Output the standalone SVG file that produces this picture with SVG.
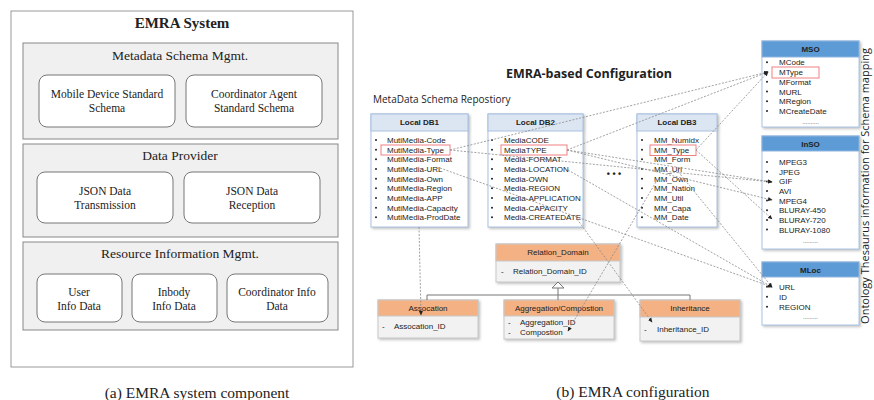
<svg xmlns="http://www.w3.org/2000/svg" width="874" height="400" viewBox="0 0 874 400">
<defs>
<marker id="arr" markerWidth="5" markerHeight="5" refX="4" refY="2.5" orient="auto" markerUnits="userSpaceOnUse">
<path d="M0,0.5 L4.5,2.5 L0,4.5 Z" fill="#222"/>
</marker>
<filter id="sh" x="-10%" y="-10%" width="130%" height="130%">
<feDropShadow dx="1.5" dy="1.5" stdDeviation="0.8" flood-color="#999" flood-opacity="0.6"/>
</filter>
</defs>
<style>
.serif{font-family:"Liberation Serif","Times New Roman",serif;fill:#222}
.sans{font-family:"Liberation Sans",Arial,sans-serif;fill:#222}
.kr{font-family:"Open Sans","Noto Sans",sans-serif;fill:#222}
.outer{fill:#fff;stroke:#999;stroke-width:1}
.sec{fill:#f0f0f0;stroke:#888;stroke-width:1}
.inner{fill:#fff;stroke:#777;stroke-width:1}
.dbh{fill:#dce6f2;stroke:#aac2df;stroke-width:1}
.dbb{fill:#fff;stroke:#aac2df;stroke-width:1}
.onh{fill:#5b9bd5;stroke:#8fb4de;stroke-width:1}
.onb{fill:#fff;stroke:#a9c4e4;stroke-width:1}
.rh{fill:#f4b183;stroke:#c8c8c8;stroke-width:1}
.rb{fill:#f2f2f2;stroke:#c8c8c8;stroke-width:1}
.hl{fill:none;stroke:#f08080;stroke-width:1}
.item{font-size:8px}
.hdr{font-size:8px;font-weight:bold;text-anchor:middle}
.conn{fill:none;stroke:#8a8a8a;stroke-width:0.8;stroke-dasharray:2 1.5}
.gen{fill:none;stroke:#777;stroke-width:1}
</style>

<!-- LEFT: EMRA system component -->
<g id="emra-system">
<rect class="outer" x="11" y="11" width="342" height="356"/>
<text class="serif" x="182" y="28" font-size="15" font-weight="bold" text-anchor="middle">EMRA System</text>
</g>
<g id="metadata-schema-mgmt">
<rect class="sec" x="23" y="43" width="315" height="96"/>
<text class="serif" x="180" y="60" font-size="13.5" text-anchor="middle">Metadata Schema Mgmt.</text>
</g>
<g id="mobile-device-schema">
<rect class="inner" x="39" y="75" width="136" height="52" rx="8"/>
<text class="serif" x="107" y="98" font-size="11.5" text-anchor="middle">Mobile Device Standard</text>
<text class="serif" x="107" y="112" font-size="11.5" text-anchor="middle">Schema</text>
</g>
<g id="coordinator-agent-schema">
<rect class="inner" x="186" y="75" width="136" height="52" rx="8"/>
<text class="serif" x="254" y="98" font-size="11.5" text-anchor="middle">Coordinator Agent</text>
<text class="serif" x="254" y="112" font-size="11.5" text-anchor="middle">Standard Schema</text>
</g>
<g id="data-provider">
<rect class="sec" x="23" y="144" width="315" height="93"/>
<text class="serif" x="180" y="160" font-size="13.5" text-anchor="middle">Data Provider</text>
</g>
<g id="json-transmission">
<rect class="inner" x="37" y="172" width="136" height="51" rx="8"/>
<text class="serif" x="105" y="195" font-size="11.5" text-anchor="middle">JSON Data</text>
<text class="serif" x="105" y="209" font-size="11.5" text-anchor="middle">Transmission</text>
</g>
<g id="json-reception">
<rect class="inner" x="184" y="172" width="136" height="51" rx="8"/>
<text class="serif" x="252" y="195" font-size="11.5" text-anchor="middle">JSON Data</text>
<text class="serif" x="252" y="209" font-size="11.5" text-anchor="middle">Reception</text>
</g>
<g id="resource-info-mgmt">
<rect class="sec" x="23" y="242" width="315" height="88"/>
<text class="serif" x="180" y="258" font-size="13.5" text-anchor="middle">Resource Information Mgmt.</text>
</g>
<g id="user-info">
<rect class="inner" x="37" y="274" width="85" height="48" rx="8"/>
<text class="serif" x="79" y="296" font-size="11.5" text-anchor="middle">User</text>
<text class="serif" x="79" y="310" font-size="11.5" text-anchor="middle">Info Data</text>
</g>
<g id="inbody-info">
<rect class="inner" x="132" y="274" width="85" height="48" rx="8"/>
<text class="serif" x="174" y="296" font-size="11.5" text-anchor="middle">Inbody</text>
<text class="serif" x="174" y="310" font-size="11.5" text-anchor="middle">Info Data</text>
</g>
<g id="coordinator-info">
<rect class="inner" x="227" y="274" width="101" height="48" rx="8"/>
<text class="serif" x="277" y="296" font-size="11.5" text-anchor="middle">Coordinator Info</text>
<text class="serif" x="277" y="310" font-size="11.5" text-anchor="middle">Data</text>
</g>
<text class="serif" x="197" y="398" font-size="15.5" text-anchor="middle">(a) EMRA system component</text>

<!-- RIGHT: EMRA configuration -->
<text class="kr" x="589" y="78" font-size="12.5" font-weight="bold" text-anchor="middle">EMRA-based Configuration</text>
<text class="kr" x="373" y="103" font-size="10">MetaData Schema Repostiory</text>

<g id="local-db1" filter="url(#sh)">
<rect class="dbb" x="371" y="114" width="97" height="113"/>
<rect class="dbh" x="371" y="114" width="97" height="17"/>
</g>
<g id="local-db1-text">
<text class="sans hdr" x="419.5" y="125">Local DB1</text>
<g fill="#222"><circle cx="376" cy="140" r="1"/><circle cx="376" cy="149.7" r="1"/><circle cx="376" cy="159.3" r="1"/><circle cx="376" cy="169" r="1"/><circle cx="376" cy="178.7" r="1"/><circle cx="376" cy="188.3" r="1"/><circle cx="376" cy="198" r="1"/><circle cx="376" cy="207.7" r="1"/><circle cx="376" cy="217.3" r="1"/></g>
<text class="sans item" x="387" y="143">MutiMedia-Code</text>
<text class="sans item" x="387" y="152.7">MutiMedia-Type</text>
<text class="sans item" x="387" y="162.3">MutiMedia-Format</text>
<text class="sans item" x="387" y="172">MutiMedia-URL</text>
<text class="sans item" x="387" y="181.7">MutiMedia-Own</text>
<text class="sans item" x="387" y="191.3">MutiMedia-Region</text>
<text class="sans item" x="387" y="201">MutiMedia-APP</text>
<text class="sans item" x="387" y="210.7">MutiMedia-Capacity</text>
<text class="sans item" x="387" y="220.3">MutiMedia-ProdDate</text>
<rect class="hl" x="381" y="145" width="69" height="10"/>
</g>

<g id="local-db2" filter="url(#sh)">
<rect class="dbb" x="488" y="114" width="95" height="113"/>
<rect class="dbh" x="488" y="114" width="95" height="17"/>
</g>
<g id="local-db2-text">
<text class="sans hdr" x="535.5" y="125">Local DB2</text>
<g fill="#222"><circle cx="492" cy="140" r="1"/><circle cx="492" cy="149.7" r="1"/><circle cx="492" cy="159.3" r="1"/><circle cx="492" cy="169" r="1"/><circle cx="492" cy="178.7" r="1"/><circle cx="492" cy="188.3" r="1"/><circle cx="492" cy="198" r="1"/><circle cx="492" cy="207.7" r="1"/><circle cx="492" cy="217.3" r="1"/></g>
<text class="sans item" x="504" y="143">MediaCODE</text>
<text class="sans item" x="504" y="152.7">MediaTYPE</text>
<text class="sans item" x="504" y="162.3">Media-FORMAT</text>
<text class="sans item" x="504" y="172">Media-LOCATION</text>
<text class="sans item" x="504" y="181.7">Media-OWN</text>
<text class="sans item" x="504" y="191.3">Media-REGION</text>
<text class="sans item" x="504" y="201">Media-APPLICATION</text>
<text class="sans item" x="504" y="210.7">Media-CAPACITY</text>
<text class="sans item" x="504" y="220.3">Media-CREATEDATE</text>
<rect class="hl" x="501" y="145" width="66" height="10"/>
</g>

<text class="sans" x="614" y="177" font-size="9" font-weight="bold" text-anchor="middle">• • •</text>

<g id="local-db3" filter="url(#sh)">
<rect class="dbb" x="637" y="114" width="80" height="113"/>
<rect class="dbh" x="637" y="114" width="80" height="17"/>
</g>
<g id="local-db3-text">
<text class="sans hdr" x="677" y="125">Local DB3</text>
<g fill="#222"><circle cx="642" cy="140" r="1"/><circle cx="642" cy="149.7" r="1"/><circle cx="642" cy="159.3" r="1"/><circle cx="642" cy="169" r="1"/><circle cx="642" cy="178.7" r="1"/><circle cx="642" cy="188.3" r="1"/><circle cx="642" cy="198" r="1"/><circle cx="642" cy="207.7" r="1"/><circle cx="642" cy="217.3" r="1"/></g>
<text class="sans item" x="654" y="143">MM_Numidx</text>
<text class="sans item" x="654" y="152.7">MM_Type</text>
<text class="sans item" x="654" y="162.3">MM_Form</text>
<text class="sans item" x="654" y="172">MM_Url</text>
<text class="sans item" x="654" y="181.7">MM_Own</text>
<text class="sans item" x="654" y="191.3">MM_Nation</text>
<text class="sans item" x="654" y="201">MM_Util</text>
<text class="sans item" x="654" y="210.7">MM_Capa</text>
<text class="sans item" x="654" y="220.3">MM_Date</text>
<rect class="hl" x="650" y="145" width="46" height="10.5"/>
</g>

<g id="mso" filter="url(#sh)">
<rect class="onb" x="762" y="41" width="97" height="86"/>
<rect class="onh" x="762" y="41" width="97" height="16"/>
</g>
<g id="mso-text">
<text class="sans hdr" x="810.5" y="52">MSO</text>
<g fill="#222"><circle cx="767" cy="62.3" r="1"/><circle cx="767" cy="72" r="1"/><circle cx="767" cy="81.7" r="1"/><circle cx="767" cy="91.5" r="1"/><circle cx="767" cy="101.3" r="1"/><circle cx="767" cy="111" r="1"/></g>
<text class="sans item" x="779" y="65.3">MCode</text>
<text class="sans item" x="779" y="75">MType</text>
<text class="sans item" x="779" y="84.7">MFormat</text>
<text class="sans item" x="779" y="94.5">MURL</text>
<text class="sans item" x="779" y="104.3">MRegion</text>
<text class="sans item" x="779" y="114">MCreateDate</text>
<text class="sans" x="810.5" y="124" font-size="6" text-anchor="middle" fill="#666">..........</text>
<rect class="hl" x="772" y="67" width="47" height="11"/>
</g>

<g id="inso" filter="url(#sh)">
<rect class="onb" x="762" y="136" width="97" height="113"/>
<rect class="onh" x="762" y="136" width="97" height="15"/>
</g>
<g id="inso-text">
<text class="sans hdr" x="810.5" y="146.5">InSO</text>
<g fill="#222"><circle cx="767" cy="162" r="1"/><circle cx="767" cy="171.7" r="1"/><circle cx="767" cy="181.4" r="1"/><circle cx="767" cy="191" r="1"/><circle cx="767" cy="200.5" r="1"/><circle cx="767" cy="210.2" r="1"/><circle cx="767" cy="219.9" r="1"/><circle cx="767" cy="229.6" r="1"/></g>
<text class="sans item" x="779" y="165">MPEG3</text>
<text class="sans item" x="779" y="174.7">JPEG</text>
<text class="sans item" x="779" y="184.4">GIF</text>
<text class="sans item" x="779" y="194">AVI</text>
<text class="sans item" x="779" y="203.5">MPEG4</text>
<text class="sans item" x="779" y="213.2">BLURAY-450</text>
<text class="sans item" x="779" y="222.9">BLURAY-720</text>
<text class="sans item" x="779" y="232.6">BLURAY-1080</text>
<text class="sans" x="810.5" y="243" font-size="6" text-anchor="middle" fill="#666">.........</text>
</g>

<g id="mloc" filter="url(#sh)">
<rect class="onb" x="762" y="262" width="97" height="63"/>
<rect class="onh" x="762" y="262" width="97" height="15"/>
</g>
<g id="mloc-text">
<text class="sans hdr" x="810.5" y="272.5">MLoc</text>
<g fill="#222"><circle cx="767" cy="286.7" r="1"/><circle cx="767" cy="296.7" r="1"/><circle cx="767" cy="306.7" r="1"/></g>
<text class="sans item" x="779" y="289.7">URL</text>
<text class="sans item" x="779" y="299.7">ID</text>
<text class="sans item" x="779" y="309.7">REGION</text>
<text class="sans" x="810.5" y="319" font-size="6" text-anchor="middle" fill="#666">.........</text>
</g>

<text class="kr" transform="translate(869,186) rotate(-90)" font-size="11" text-anchor="middle">Ontology Thesaurus information for Schema mapping</text>

<!-- relation classes -->
<g id="relation-domain" filter="url(#sh)">
<rect class="rb" x="496" y="244" width="124" height="38"/>
<rect class="rh" x="496" y="244" width="124" height="17"/>
</g>
<g id="relation-domain-text">
<text class="sans" x="558" y="255" font-size="8" text-anchor="middle">Relation_Domain</text>
<text class="sans item" x="501" y="274">-</text>
<text class="sans item" x="513" y="274">Relation_Domain_ID</text>
</g>

<g id="assocation" filter="url(#sh)">
<rect class="rb" x="378" y="300" width="100" height="38"/>
<rect class="rh" x="378" y="300" width="100" height="16"/>
</g>
<g id="assocation-text">
<text class="sans" x="428" y="311" font-size="8" text-anchor="middle">Assocation</text>
<text class="sans item" x="382" y="329">-</text>
<text class="sans item" x="394" y="329">Assocation_ID</text>
</g>

<g id="aggregation-compostion" filter="url(#sh)">
<rect class="rb" x="504" y="300" width="110" height="39"/>
<rect class="rh" x="504" y="300" width="110" height="16"/>
</g>
<g id="aggregation-compostion-text">
<text class="sans" x="559" y="311" font-size="8" text-anchor="middle">Aggregation/Compostion</text>
<text class="sans item" x="508" y="325">-</text>
<text class="sans item" x="520" y="325">Aggregation_ID</text>
<text class="sans item" x="508" y="335">-</text>
<text class="sans item" x="520" y="335">Compostion</text>
</g>

<g id="inheritance" filter="url(#sh)">
<rect class="rb" x="640" y="300" width="100" height="41"/>
<rect class="rh" x="640" y="300" width="100" height="17"/>
</g>
<g id="inheritance-text">
<text class="sans" x="690" y="311" font-size="8" text-anchor="middle">Inheritance</text>
<text class="sans item" x="644" y="332">-</text>
<text class="sans item" x="657" y="332">Inheritance_ID</text>
</g>

<g id="connectors">
<path class="gen" d="M427,300 V295 H690 V300 M558,300 V288"/>
<path d="M558,282 L552,288 L564,288 Z" fill="#fff" stroke="#777" stroke-width="1"/>
<line class="conn" x1="450" y1="150" x2="768" y2="72" marker-end="url(#arr)"/>
<line class="conn" x1="567" y1="150" x2="768" y2="72" marker-end="url(#arr)"/>
<line class="conn" x1="696" y1="150" x2="768" y2="72" marker-end="url(#arr)"/>
<line class="conn" x1="450" y1="150" x2="772" y2="182" marker-end="url(#arr)"/>
<line class="conn" x1="567" y1="150" x2="772" y2="182" marker-end="url(#arr)"/>
<line class="conn" x1="567" y1="150" x2="772" y2="200" marker-end="url(#arr)"/>
<line class="conn" x1="696" y1="150" x2="772" y2="219" marker-end="url(#arr)"/>
<line class="conn" x1="440" y1="168" x2="772" y2="287" marker-end="url(#arr)"/>
<line class="conn" x1="568" y1="170" x2="772" y2="287" marker-end="url(#arr)"/>
<line class="conn" x1="676" y1="169" x2="772" y2="287" marker-end="url(#arr)"/>
<line class="conn" x1="419" y1="227" x2="421" y2="315" marker-end="url(#arr)"/>
<line class="conn" x1="577" y1="219" x2="652" y2="322" marker-end="url(#arr)"/>
<line class="conn" x1="656" y1="182" x2="568" y2="331" marker-end="url(#arr)"/>
</g>

<text class="serif" x="633" y="397" font-size="15.5" text-anchor="middle">(b) EMRA configuration</text>
</svg>
